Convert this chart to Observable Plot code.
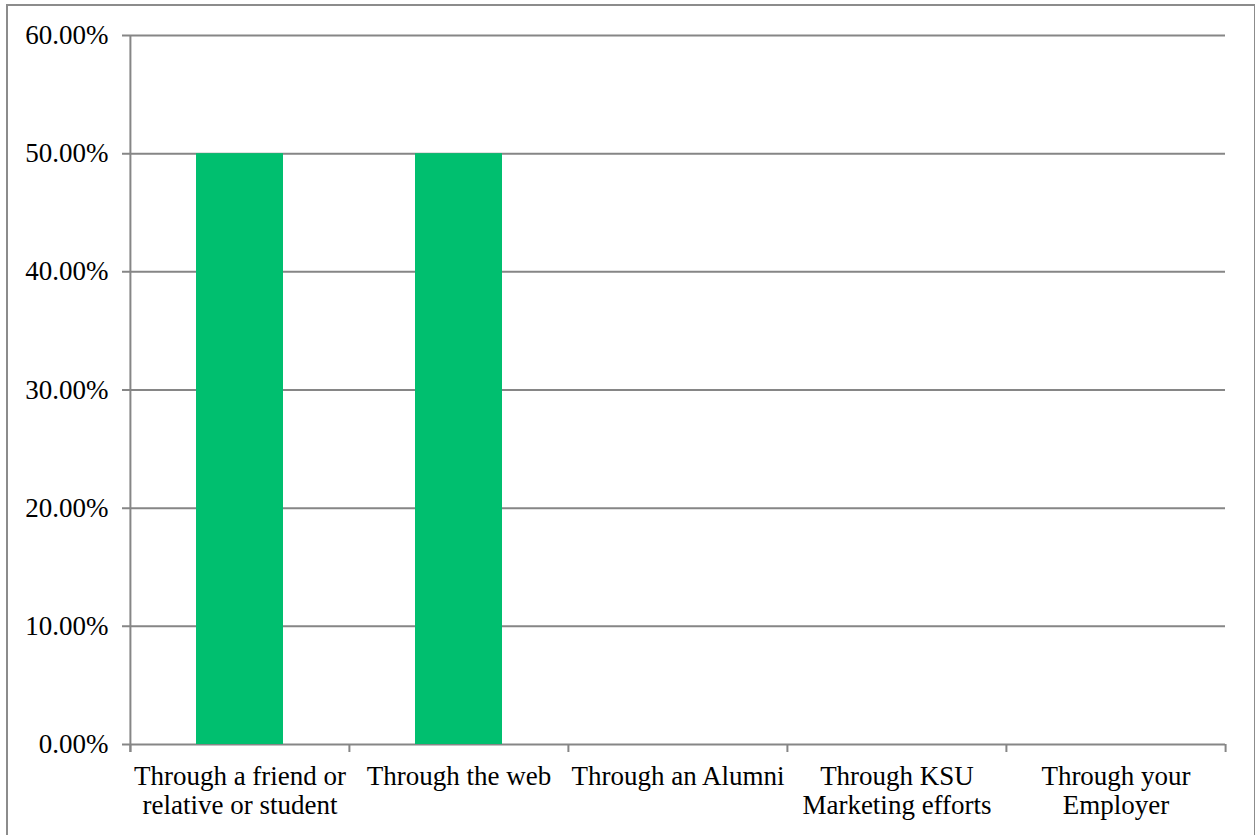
<!DOCTYPE html>
<html>
<head>
<meta charset="utf-8">
<script src="https://cdn.jsdelivr.net/npm/d3@7"></script>
<script src="https://cdn.jsdelivr.net/npm/@observablehq/plot@0.6"></script>
<style>
  html, body { margin: 0; padding: 0; background: #fff; }
  #wrap { position: relative; width: 1255px; height: 835px; overflow: hidden; }
  #border { position: absolute; left: 6px; top: 4px; width: 1246px; height: 900px; border: 2px solid #8c8c8c; }
  #chart { position: absolute; left: 0; top: 0; }
</style>
</head>
<body>
<div id="wrap"><div id="border"></div><div id="chart"></div></div>
<script>
const categories = [
  "Through a friend or\nrelative or student",
  "Through the web",
  "Through an Alumni",
  "Through KSU\nMarketing efforts",
  "Through your\nEmployer"
];
const values = [0.5, 0.5, 0, 0, 0];
const yTicks = [0, 0.1, 0.2, 0.3, 0.4, 0.5, 0.6];

const data = categories.map((c, i) => ({category: c, value: values[i]}));

const width = 1255, height = 835;
const marginLeft = 129, marginRight = 30, marginTop = 35, marginBottom = 91;
const step = (width - marginLeft - marginRight) / categories.length;
const grey = "#868686";
const font = "'Liberation Serif', 'Times New Roman', serif";
const fs = 27;

const chart = Plot.plot({
  width, height, marginLeft, marginRight, marginTop, marginBottom,
  style: {fontFamily: font, fontSize: fs + "px", color: "#000", background: "transparent"},
  x: {domain: categories, padding: 0, axis: null},
  y: {domain: [0, 0.6], axis: null},
  marks: [
    Plot.ruleY(yTicks, {y: d => d, stroke: grey, strokeWidth: 2, insetLeft: -7}),
    Plot.barY(data, {x: "category", y: "value", fill: "#00BF6F", insetLeft: 66, insetRight: 66}),
    Plot.ruleX([categories[0]], {x: d => d, dx: -step / 2, y1: 0.6, y2: 0, stroke: grey, strokeWidth: 2, insetBottom: -8}),
    Plot.ruleX(categories, {x: d => d, dx: -step / 2, y1: 0, y2: 0, stroke: grey, strokeWidth: 2, insetBottom: -8}),
    Plot.ruleX([categories[categories.length - 1]], {x: d => d, dx: step / 2, y1: 0, y2: 0, stroke: grey, strokeWidth: 2, insetBottom: -8}),
    Plot.axisY(yTicks, {label: null, tickSize: 0, tickPadding: 21, tickFormat: d3.format(".2%"), fontSize: fs, fill: "#000"}),
    Plot.text(categories, {x: d => d, y: 0, text: d => d, lineAnchor: "top", dy: 20, lineHeight: 29 / fs, fontSize: fs, fill: "#000"})
  ]
});
document.getElementById("chart").appendChild(chart);
</script>
</body>
</html>
